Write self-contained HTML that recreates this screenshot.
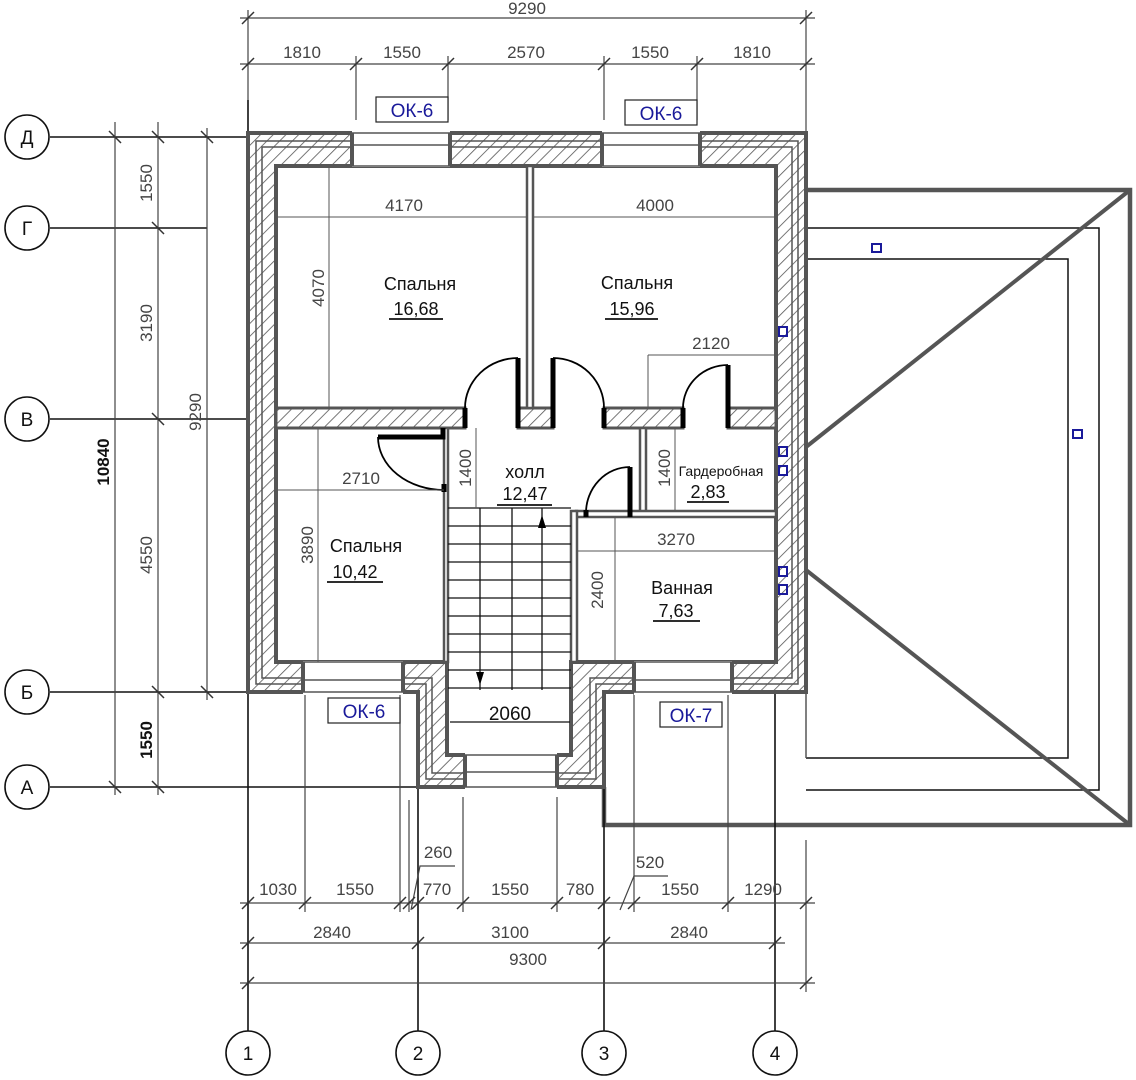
<!DOCTYPE html>
<html><head><meta charset="utf-8"><style>
html,body{margin:0;padding:0;background:#fff;}
svg{display:block;}
.d{font-family:"Liberation Sans Narrow","Liberation Sans",sans-serif;font-size:17px;fill:#444;}
.r{font-family:"Liberation Sans","DejaVu Sans",sans-serif;font-size:18px;fill:#111;}
.b{font-family:"Liberation Sans Narrow","Liberation Sans",sans-serif;font-size:19px;fill:#1a1a9a;}
.ax{font-family:"Liberation Sans",sans-serif;font-size:19px;fill:#111;}
</style></head><body>
<svg width="1136" height="1080" viewBox="0 0 1136 1080" xmlns="http://www.w3.org/2000/svg">
<defs>
<pattern id="h" patternUnits="userSpaceOnUse" width="9" height="9" patternTransform="rotate(45)">
<rect width="9" height="9" fill="#fff"/><line x1="0" y1="0" x2="0" y2="9" stroke="#555" stroke-width="1.6"/>
</pattern>
</defs>

<!-- roof -->
<g fill="none" stroke="#555">
<path d="M806 190 H1130 V825 H604 V787" stroke-width="4.5"/>
<path d="M806 228 H1099 V790 H806" stroke="#111" stroke-width="1.5"/>
<path d="M806 259 H1068 V758 H806" stroke="#111" stroke-width="1.5"/>
<line x1="806" y1="447" x2="1130" y2="190" stroke-width="4"/>
<line x1="806" y1="570" x2="1130" y2="825" stroke-width="4"/>
<line x1="806" y1="692" x2="806" y2="758" stroke-width="1.5"/>
</g>
<g fill="none" stroke="#1a1a9a" stroke-width="2">
<rect x="872" y="244" width="9" height="8"/><rect x="1073" y="430" width="9" height="8"/>
</g>

<!-- axes lines -->
<g stroke="#111" stroke-width="1.6" fill="none">
<line x1="50" y1="137" x2="248" y2="137"/>
<line x1="50" y1="228" x2="207" y2="228"/>
<line x1="50" y1="419" x2="248" y2="419"/>
<line x1="50" y1="692" x2="248" y2="692"/>
<line x1="50" y1="787" x2="418" y2="787"/>
<line x1="248" y1="100" x2="248" y2="1031"/>
<line x1="418" y1="787" x2="418" y2="1031"/>
<line x1="604" y1="787" x2="604" y2="1031"/>
<line x1="775" y1="692" x2="775" y2="1031"/>
<circle cx="27" cy="137" r="22"/><circle cx="27" cy="228" r="22"/><circle cx="27" cy="419" r="22"/><circle cx="27" cy="692" r="22"/><circle cx="27" cy="787" r="22"/>
<circle cx="248" cy="1053" r="22"/><circle cx="418" cy="1053" r="22"/><circle cx="604" cy="1053" r="22"/><circle cx="775" cy="1053" r="22"/>
</g>
<g class="ax" text-anchor="middle">
<text x="27" y="144">Д</text><text x="27" y="235">Г</text><text x="27" y="426">В</text><text x="27" y="699">Б</text><text x="27" y="794">А</text>
<text x="248" y="1060">1</text><text x="418" y="1060">2</text><text x="604" y="1060">3</text><text x="775" y="1060">4</text>
</g>

<!-- dimension lines -->
<g stroke="#444" stroke-width="1.2" fill="none">
<line x1="240" y1="18" x2="815" y2="18"/>
<line x1="240" y1="64" x2="815" y2="64"/>
<line x1="248" y1="10" x2="248" y2="100"/><line x1="806" y1="10" x2="806" y2="133"/>
<line x1="356" y1="56" x2="356" y2="120"/><line x1="448" y1="56" x2="448" y2="120"/>
<line x1="604" y1="56" x2="604" y2="120"/><line x1="697" y1="56" x2="697" y2="120"/>
<line x1="115" y1="122" x2="115" y2="795"/>
<line x1="158" y1="122" x2="158" y2="795"/>
<line x1="207" y1="128" x2="207" y2="700"/>
<line x1="240" y1="903" x2="815" y2="903"/>
<line x1="240" y1="943" x2="785" y2="943"/>
<line x1="240" y1="983" x2="815" y2="983"/>
<line x1="305" y1="692" x2="305" y2="912"/><line x1="400" y1="692" x2="400" y2="912"/>
<line x1="409" y1="800" x2="409" y2="912"/><line x1="463" y1="797" x2="463" y2="912"/>
<line x1="557" y1="797" x2="557" y2="912"/><line x1="634" y1="692" x2="634" y2="912"/>
<line x1="728" y1="692" x2="728" y2="912"/><line x1="806" y1="840" x2="806" y2="992"/>
<path d="M411 910 L420 866 H455"/><path d="M620 910 L634 876 H668"/>
</g>
<g stroke="#333" stroke-width="1.5">
<path d="M242 24l12-12M800 24l12-12M242 70l12-12M350 70l12-12M442 70l12-12M598 70l12-12M691 70l12-12M800 70l12-12"/>
<path d="M109 131l12 12M109 781l12 12M152 131l12 12M152 222l12 12M152 413l12 12M152 686l12 12M152 781l12 12M201 131l12 12M201 686l12 12"/>
<path d="M242 909l12-12M299 909l12-12M394 909l12-12M403 909l12-12M412 909l12-12M457 909l12-12M551 909l12-12M598 909l12-12M628 909l12-12M722 909l12-12M800 909l12-12"/>
<path d="M242 949l12-12M412 949l12-12M598 949l12-12M769 949l12-12M242 989l12-12M800 989l12-12"/>
</g>
<g class="d" text-anchor="middle">
<text x="527" y="14">9290</text>
<text x="302" y="58">1810</text><text x="402" y="58">1550</text><text x="526" y="58">2570</text><text x="650" y="58">1550</text><text x="752" y="58">1810</text>
<text transform="translate(152,183) rotate(-90)">1550</text>
<text transform="translate(152,323) rotate(-90)">3190</text>
<text transform="translate(152,555) rotate(-90)">4550</text>
<text transform="translate(152,740) rotate(-90)" style="fill:#111;font-weight:bold">1550</text>
<text transform="translate(109,462) rotate(-90)" style="fill:#111;font-weight:bold">10840</text>
<text transform="translate(201,412) rotate(-90)">9290</text>
<text x="278" y="895">1030</text><text x="355" y="895">1550</text><text x="437" y="895">770</text><text x="510" y="895">1550</text><text x="580" y="895">780</text><text x="680" y="895">1550</text><text x="763" y="895">1290</text>
<text x="438" y="858">260</text><text x="650" y="868">520</text>
<text x="332" y="938">2840</text><text x="510" y="938">3100</text><text x="689" y="938">2840</text>
<text x="528" y="965">9300</text>
</g>

<!-- OK labels -->
<g fill="#fff" stroke="#222" stroke-width="1.2">
<rect x="376" y="97" width="72" height="25"/><rect x="625" y="100" width="72" height="25"/>
<rect x="328" y="698" width="72" height="25"/><rect x="660" y="702" width="62" height="25"/>
</g>
<g class="b" text-anchor="middle">
<text x="412" y="117">ОК-6</text><text x="661" y="120">ОК-6</text><text x="364" y="718">ОК-6</text><text x="691" y="722">ОК-7</text>
</g>

<!-- outer walls -->
<path fill-rule="evenodd" fill="url(#h)" stroke="#555" stroke-width="4"
 d="M248 133 H806 V692 H604 V787 H418 V692 H248 Z M276 166 V662 H447 V755 H571 V662 H776 V166 Z"/>
<g fill="none" stroke="#555" stroke-width="1.5">
<path d="M256 141 H798 V684 H596 V779 H426 V684 H256 Z"/>
<path d="M262 147 H792 V678 H590 V773 H432 V678 H262 Z"/>
</g>
<!-- openings -->
<g fill="#fff">
<rect x="352" y="130" width="98" height="37"/><rect x="602" y="130" width="98" height="37"/>
<rect x="303" y="661" width="100" height="34"/><rect x="634" y="661" width="98" height="34"/>
<rect x="465" y="753" width="92" height="36"/>
</g>
<g fill="none" stroke="#555" stroke-width="1.5">
<path d="M352 133 H450 M352 145 H450 M352 166 H450 M602 133 H700 M602 145 H700 M602 166 H700"/>
<path d="M303 662 H403 M303 680 H403 M303 692 H403 M634 662 H732 M634 680 H732 M634 692 H732"/>
<path d="M465 755 H557 M465 772 H557 M465 787 H557"/>
<path d="M352 133 V166 M450 133 V166 M602 133 V166 M700 133 V166 M303 662 V692 M403 662 V692 M634 662 V692 M732 662 V692 M465 755 V787 M557 755 V787" stroke-width="4"/>
</g>

<!-- interior walls -->
<g fill="url(#h)" stroke="#555" stroke-width="3">
<rect x="276" y="408" width="189" height="20"/>
<rect x="518" y="408" width="35" height="20"/>
<rect x="604" y="408" width="79" height="20"/>
<rect x="728" y="408" width="48" height="20"/>
</g>
<g fill="#fff" stroke="#555" stroke-width="2.5">
<rect x="527" y="166" width="6" height="242"/>
<rect x="640" y="428" width="6" height="86"/>
<rect x="576" y="511" width="200" height="6"/>
<rect x="571" y="511" width="6" height="151"/>
<rect x="444" y="428" width="4" height="234"/>
</g>
<!-- doors -->
<g stroke="#000" stroke-width="5" fill="none">
<line x1="465" y1="408" x2="465" y2="428"/><line x1="518" y1="358" x2="518" y2="428"/>
<line x1="553" y1="358" x2="553" y2="428"/><line x1="604" y1="408" x2="604" y2="428"/>
<line x1="683" y1="408" x2="683" y2="428"/><line x1="728" y1="365" x2="728" y2="428"/>
<line x1="630" y1="467" x2="630" y2="517"/><line x1="586" y1="510" x2="586" y2="517"/>
<path d="M378 437 H443 V428"/>
<line x1="444" y1="484" x2="444" y2="492"/>
</g>
<g stroke="#000" stroke-width="1.8" fill="none">
<path d="M465 408 A53 50 0 0 1 518 358"/>
<path d="M553 358 A51 50 0 0 1 604 408"/>
<path d="M683 408 A45 43 0 0 1 728 365"/>
<path d="M586 513 A44 46 0 0 1 630 467"/>
<path d="M378 437 A66 53 0 0 0 444 490"/>
</g>

<!-- stairs -->
<g stroke="#111" stroke-width="1.3" fill="none">
<path d="M448 508 H571 M448 526 H571 M448 544 H571 M448 562 H571 M448 580 H571 M448 598 H571 M448 616 H571 M448 634 H571 M448 652 H571 M448 670 H571 M448 688 H571"/>
<path d="M480 508 V690 M512 508 V690 M542 508 V690"/>
<path d="M450 722 H570"/>
</g>
<path d="M542 515 L538 528 H546 Z M480 685 L476 672 H484 Z" fill="#000"/>

<!-- interior dim lines -->
<g stroke="#555" stroke-width="1" fill="none">
<line x1="276" y1="217" x2="527" y2="217"/><line x1="533" y1="217" x2="776" y2="217"/>
<line x1="329" y1="166" x2="329" y2="408"/>
<line x1="648" y1="355" x2="776" y2="355"/><line x1="648" y1="355" x2="648" y2="408"/>
<line x1="276" y1="490" x2="444" y2="490"/><line x1="318" y1="428" x2="318" y2="662"/>
<line x1="476" y1="428" x2="476" y2="508"/><line x1="675" y1="428" x2="675" y2="511"/>
<line x1="576" y1="551" x2="776" y2="551"/><line x1="615" y1="517" x2="615" y2="662"/>
</g>
<g class="d" text-anchor="middle">
<text x="404" y="211">4170</text><text x="655" y="211">4000</text>
<text transform="translate(324,288) rotate(-90)">4070</text>
<text x="711" y="349">2120</text>
<text x="361" y="484">2710</text>
<text transform="translate(313,545) rotate(-90)">3890</text>
<text transform="translate(471,468) rotate(-90)">1400</text>
<text transform="translate(670,468) rotate(-90)">1400</text>
<text x="676" y="545">3270</text>
<text transform="translate(603,590) rotate(-90)">2400</text>
</g>

<!-- room labels -->
<g class="r" text-anchor="middle">
<text x="420" y="290">Спальня</text><text x="416" y="315">16,68</text>
<text x="637" y="289">Спальня</text><text x="632" y="315">15,96</text>
<text x="525" y="478">холл</text><text x="525" y="500">12,47</text>
<text x="366" y="552">Спальня</text><text x="355" y="578">10,42</text>
<text x="682" y="594">Ванная</text><text x="676" y="617">7,63</text>
<text x="721" y="476" style="font-size:14px">Гардеробная</text><text x="708" y="498">2,83</text>
<text x="510" y="720" style="font-size:19px">2060</text>
</g>
<g stroke="#111" stroke-width="1.8">
<path d="M389 319 H443 M605 319 H658 M497 505 H552 M327 582 H383 M653 621 H700 M687 502 H729"/>
</g>

<g fill="none" stroke="#1a1a9a" stroke-width="2">
<rect x="779" y="327" width="8" height="9"/><rect x="779" y="447" width="8" height="9"/><rect x="779" y="466" width="8" height="9"/>
<rect x="779" y="567" width="8" height="9"/><rect x="779" y="585" width="8" height="9"/>
</g>
</svg>
</body></html>
